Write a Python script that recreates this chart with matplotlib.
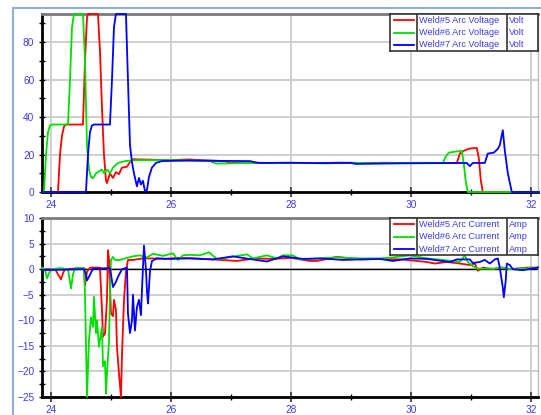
import matplotlib
matplotlib.use("Agg")
import matplotlib.pyplot as plt
from matplotlib.lines import Line2D
from matplotlib.ticker import MultipleLocator

plt.rcParams['font.family'] = ['Liberation Sans', 'DejaVu Sans']

# arc voltage, Volt (time in s)
v5_t = [23.85, 24.117, 24.15, 24.183, 24.217, 24.25, 24.533, 24.567, 24.6, 24.617, 24.783, 24.817,
        24.85, 24.883, 24.917, 24.933, 24.983, 25.033, 25.083, 25.133, 25.183, 25.267, 25.317, 25.367,
        25.6, 25.983, 26.3, 26.5, 26.9, 26.983, 27.3, 27.6, 28.0, 28.4, 28.8, 29.2, 29.6, 30.0, 30.4,
        30.767, 30.817, 30.9, 30.983, 31.1, 31.133, 31.167, 31.2, 32.117]
v5 = [0, 0, 20, 30, 35, 36, 36, 70, 93, 95, 95, 75,
      45, 20, 6, 4.8, 10, 7.5, 10.6, 9.5, 13, 13.5, 16, 17.5,
      17.3, 17, 17.4, 17, 16.5, 15.6, 15.8, 15.5, 15.6, 15.4, 15.7, 15.5, 15.6, 15.4, 15.5,
      15.5, 20.5, 22.3, 23.2, 23.5, 18, 6, 0, 0]

v6_t = [23.85, 23.883, 23.917, 23.95, 23.983, 24.017, 24.283, 24.317, 24.35, 24.383, 24.533, 24.567,
        24.6, 24.633, 24.667, 24.7, 24.75, 24.8, 24.85, 24.883, 24.933, 24.983, 25.033, 25.117, 25.233,
        25.4, 25.983, 26.4, 26.65, 26.75, 27.0, 27.317, 27.7, 28.15, 28.6, 29.0, 29.4, 29.817, 30.2,
        30.533, 30.583, 30.633, 30.733, 30.85, 30.883, 30.917, 30.95, 32.117]
v6 = [0, 0, 20, 32, 35.5, 36, 36, 60, 88, 95, 95, 70,
      25, 12, 8, 7.4, 10, 11, 12, 10, 12, 10, 13, 15.5, 16.5,
      17, 17, 16.8, 16.5, 15.2, 15.3, 15.5, 15.4, 15.5, 15.3, 15.6, 15.4, 15.5, 15.6,
      15.5, 19, 21, 21.5, 22, 15, 5, 0, 0]

v7_t = [23.85, 24.583, 24.617, 24.65, 24.683, 24.717, 24.983, 25.017, 25.05, 25.083, 25.25, 25.283,
        25.317, 25.35, 25.383, 25.433, 25.467, 25.5, 25.533, 25.567, 25.6, 25.633, 25.683, 25.75, 25.85,
        26.3, 26.8, 27.317, 27.45, 28.0, 28.5, 29.0, 29.083, 29.817, 30.4, 30.933, 30.983, 31.033,
        31.233, 31.283, 31.383, 31.45, 31.483, 31.533, 31.567, 31.617, 31.683, 32.117]
v7 = [0, 0, 20, 32, 35.5, 36, 36, 60, 88, 95, 95, 60,
      25, 16, 10, 3, 7.5, 4, 6, 0.5, 1, 8, 13, 15.5, 16.5,
      16.8, 16.6, 16.5, 15.5, 15.6, 15.4, 15.5, 15, 15.3, 15.4, 15.5, 13.8, 15.5,
      15.5, 20.5, 21, 23, 25, 33, 22, 10, 0, 0]

# arc current, Amp
i5_t = [23.85, 24.067, 24.117, 24.167, 24.2, 24.233, 24.55, 24.567, 24.6, 24.65, 24.817, 24.85,
        24.867, 24.9, 24.933, 24.95, 24.967, 25.0, 25.033, 25.05, 25.083, 25.1, 25.133, 25.167,
        25.183, 25.217, 25.25, 25.283, 25.367, 25.533, 25.7, 25.9, 26.1, 26.4, 26.7, 27.1, 27.4,
        27.7, 28.0, 28.317, 28.433, 28.767, 29.15, 29.5, 29.85, 30.267, 30.4, 30.6, 30.817, 30.983,
        31.067, 31.117, 31.2, 31.367, 31.517, 31.65, 31.933, 32.117]
i5 = [0, 0, -1, -2, -0.8, 0, 0.2, -3.2, -0.5, 0.3, 0.3, -8,
      -13.2, -12.6, -6, 3.7, 1.9, -8.6, -9.2, -6, -8, -15.2, -20.3, -25,
      -17, -6, -0.5, 1.8, 1.8, 2.1, 2.1, 2.0, 2.2, 2.1, 1.9, 1.6, 2.1,
      2.0, 2.2, 1.6, 1.6, 2.4, 1.9, 2.0, 1.9, 1.4, 1.1, 1.4, 1.1, 0.8,
      1.1, -0.3, 0.3, 0, 0.3, 0, 0.3, 0.3]

i6_t = [23.85, 23.9, 23.933, 23.967, 24.0, 24.15, 24.283, 24.317, 24.333, 24.367, 24.4, 24.55,
        24.567, 24.6, 24.633, 24.667, 24.7, 24.717, 24.75, 24.767, 24.8, 24.85, 24.867, 24.9,
        24.917, 24.933, 24.967, 24.983, 25.0, 25.033, 25.067, 25.15, 25.267, 25.367, 25.483, 25.6,
        25.7, 25.867, 26.033, 26.117, 26.2, 26.317, 26.483, 26.633, 26.767, 26.867, 27.267, 27.367,
        27.6, 27.767, 27.867, 28.033, 28.15, 28.483, 28.767, 29.15, 29.483, 29.7, 29.983, 30.267,
        30.533, 30.817, 30.9, 30.95, 31.033, 31.117, 31.367, 31.533, 31.65, 31.817, 32.117]
i6 = [0.3, 0, -1.8, -0.8, 0, 0.2, 0, -2.5, -3.8, -1, 0.2, 0.2,
      -5, -25, -13.9, -9.4, -11.3, -5.4, -12.5, -10, -15.2, -11.3, -19, -18,
      -24.3, -20.5, -14, -5, 1.8, 2.4, 1.8, 1.8, 2.2, 2.5, 2.7, 2.3,
      3.0, 2.6, 3.1, 1.8, 2.7, 2.8, 2.7, 3.3, 2.0, 2.1, 2.9, 2.1,
      2.7, 2.1, 2.7, 2.7, 1.9, 2.1, 2.3, 2.1, 2.1, 2.3, 2.7, 2.1,
      1.8, 1.4, 2.7, 1.4, 0.6, 0.1, 0.1, 0.3, 0, 0.1, 0.3]

i7_t = [23.85, 24.55, 24.583, 24.6, 24.633, 24.7, 24.983, 25.0, 25.033, 25.083, 25.117, 25.183,
        25.267, 25.283, 25.317, 25.35, 25.367, 25.4, 25.433, 25.467, 25.5, 25.517, 25.55, 25.583,
        25.6, 25.617, 25.65, 25.683, 25.767, 26.0, 26.3, 26.7, 27.033, 27.3, 27.6, 27.867, 28.2,
        28.5, 28.867, 29.15, 29.483, 29.7, 29.983, 30.267, 30.65, 30.767, 30.983, 31.033, 31.15,
        31.233, 31.317, 31.4, 31.45, 31.483, 31.533, 31.55, 31.583, 31.6, 31.65, 31.7, 31.867, 32.117]
i7 = [-0.2, 0, -1, -2.2, -1.5, 0.1, 0.2, -1, -3.5, -2.5, -1.5, 0,
      0.3, -8.6, -12.5, -10, -5, -12, -7.4, -6, -9, -4, 4.6, 0,
      -4.3, -6.7, -0.5, 1.6, 2.1, 2.0, 2.1, 1.9, 2.5, 2.0, 1.5, 2.5, 2.0,
      2.1, 1.8, 1.9, 2.0, 1.6, 2.1, 2.0, 1.4, 1.9, 1.9, 1.2, 1.4,
      1.8, 1.1, 1.9, 2.1, 0.3, -3.6, -5.5, -2.1, 1.1, 0.8, 0, -0.2, 0.3]

colors = ['#ff0000', '#00e000', '#0000ff']
blue_txt = '#3c3cf0'
v_names = ['Weld#5 Arc Voltage', 'Weld#6 Arc Voltage', 'Weld#7 Arc Voltage']
i_names = ['Weld#5 Arc Current', 'Weld#6 Arc Current', 'Weld#7 Arc Current']


def style_axes(ax, ylo, yhi, major, minor):
    ax.set_xlim(23.85, 32.12)
    ax.set_ylim(ylo, yhi)
    ax.xaxis.set_major_locator(MultipleLocator(2))
    ax.xaxis.set_minor_locator(MultipleLocator(1))
    ax.yaxis.set_major_locator(MultipleLocator(major))
    ax.yaxis.set_minor_locator(MultipleLocator(minor))
    ax.grid(True, which='major', color='#cccccc', lw=1.3)
    ax.set_axisbelow(True)
    ax.tick_params(which='both', direction='inout', labelcolor=blue_txt, labelsize=7.3, color='black')
    ax.tick_params(axis='x', which='major', length=7, width=1.5, color='#555555', pad=2)
    ax.tick_params(axis='x', which='minor', length=5, width=1)
    ax.tick_params(axis='y', which='both', length=5, width=1, pad=3)
    ax.spines['left'].set_linewidth(2)
    ax.spines['bottom'].set_linewidth(2)
    ax.spines['top'].set_color('#7a7a7a')
    ax.spines['top'].set_linewidth(2)
    ax.spines['right'].set_color('#bbbbbb')
    ax.spines['right'].set_linewidth(1)


def table_legend(ax, names, unit):
    lg = ax.inset_axes([0.7016, 0.792, 0.298, 0.208])
    lg.set_xlim(0, 1)
    lg.set_ylim(0, 1)
    lg.set_xticks([])
    lg.set_yticks([])
    lg.set_facecolor('white')
    for s in lg.spines.values():
        s.set_linewidth(1.2)
        s.set_color('#333333')
    lg.axvline(0.182, color='#333333', lw=1.2)
    lg.axvline(0.79, color='#333333', lw=1.2)
    for i, (name, c) in enumerate(zip(names, colors)):
        y = 1 - (i + 0.5) / 3
        lg.plot([0.03, 0.165], [y, y], color=c, lw=1.3)
        lg.text(0.195, y, name, color=blue_txt, va='center', fontsize=6.6)
        lg.text(0.805, y, unit, color=blue_txt, va='center', fontsize=6.6)


fig = plt.figure(figsize=(5.41, 4.15), dpi=100)
ax1 = fig.add_axes([42 / 541, 1 - 192 / 415, 496 / 541, 178 / 415])
ax2 = fig.add_axes([42 / 541, 1 - 397 / 415, 496 / 541, 179 / 415])

style_axes(ax1, 0, 95, 20, 10)
style_axes(ax2, -25, 10, 5, 2.5)
ax2.axhline(0, color='black', lw=1, zorder=1.5)

# all values lie inside the limits, so no clipping: keeps the 0 / 95 stretches visible
for t, v, c in zip([v5_t, v6_t, v7_t], [v5, v6, v7], colors):
    ax1.plot(t, v, color=c, lw=1.3, zorder=3, clip_on=False)
for t, v, c in zip([i5_t, i6_t, i7_t], [i5, i6, i7], colors):
    ax2.plot(t, v, color=c, lw=1.3, zorder=3, clip_on=False)

table_legend(ax1, v_names, 'Volt')
table_legend(ax2, i_names, 'Amp')

# light frame around the panel
fig.add_artist(Line2D([13 / 541, 13 / 541], [0, 1 - 8 / 415], transform=fig.transFigure, color='#8fb0d8', lw=1.5))
fig.add_artist(Line2D([13 / 541, 1], [1 - 8 / 415, 1 - 8 / 415], transform=fig.transFigure, color='#8fb0d8', lw=1.5))

fig.savefig('out.png', dpi=100)
